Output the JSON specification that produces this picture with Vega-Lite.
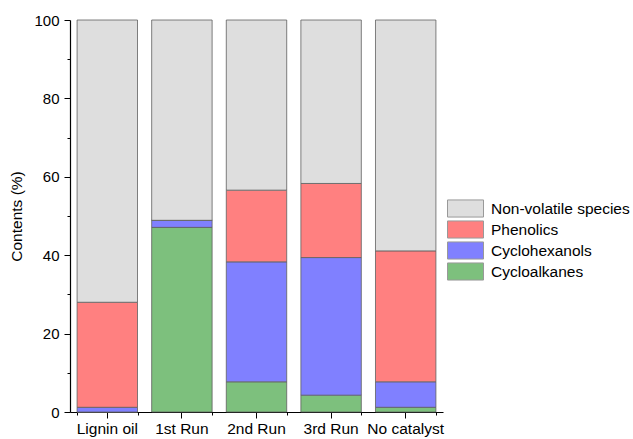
{
  "$schema": "https://vega.github.io/schema/vega-lite/v6.json",
  "width": 373,
  "height": 392,
  "autosize": {"type": "none"},
  "padding": {"left": 70, "top": 20, "right": 190, "bottom": 27},
  "config": {
    "font": "Liberation Sans",
    "view": {"stroke": null},
    "axis": {"domainColor": "#000", "tickColor": "#000", "labelColor": "#000", "titleColor": "#000", "grid": false}
  },
  "data": {
    "values": [
      {"sample": "Lignin oil", "species": "Cycloalkanes", "value": 0, "ord": 1},
      {"sample": "Lignin oil", "species": "Cyclohexanols", "value": 1.2, "ord": 2},
      {"sample": "Lignin oil", "species": "Phenolics", "value": 26.8, "ord": 3},
      {"sample": "Lignin oil", "species": "Non-volatile species", "value": 72.0, "ord": 4},
      {"sample": "1st Run", "species": "Cycloalkanes", "value": 47.1, "ord": 1},
      {"sample": "1st Run", "species": "Cyclohexanols", "value": 1.8, "ord": 2},
      {"sample": "1st Run", "species": "Phenolics", "value": 0, "ord": 3},
      {"sample": "1st Run", "species": "Non-volatile species", "value": 51.1, "ord": 4},
      {"sample": "2nd Run", "species": "Cycloalkanes", "value": 7.7, "ord": 1},
      {"sample": "2nd Run", "species": "Cyclohexanols", "value": 30.6, "ord": 2},
      {"sample": "2nd Run", "species": "Phenolics", "value": 18.3, "ord": 3},
      {"sample": "2nd Run", "species": "Non-volatile species", "value": 43.4, "ord": 4},
      {"sample": "3rd Run", "species": "Cycloalkanes", "value": 4.3, "ord": 1},
      {"sample": "3rd Run", "species": "Cyclohexanols", "value": 35.1, "ord": 2},
      {"sample": "3rd Run", "species": "Phenolics", "value": 18.9, "ord": 3},
      {"sample": "3rd Run", "species": "Non-volatile species", "value": 41.7, "ord": 4},
      {"sample": "No catalyst", "species": "Cycloalkanes", "value": 1.2, "ord": 1},
      {"sample": "No catalyst", "species": "Cyclohexanols", "value": 6.5, "ord": 2},
      {"sample": "No catalyst", "species": "Phenolics", "value": 33.4, "ord": 3},
      {"sample": "No catalyst", "species": "Non-volatile species", "value": 58.9, "ord": 4}
    ]
  },
  "resolve": {"axis": {"x": "independent"}},
  "layer": [
    {
      "mark": {"type": "bar", "opacity": 0},
      "encoding": {
        "x": {
          "field": "sample", "type": "nominal",
          "sort": ["Lignin oil", "1st Run", "2nd Run", "3rd Run", "No catalyst"],
          "scale": {"paddingInner": 0.19, "paddingOuter": 0.095},
          "axis": {"title": null, "orient": "bottom", "labels": false, "domain": false, "tickBand": "extent", "tickSize": 3, "tickWidth": 1}
        }
      }
    },
    {
      "mark": {"type": "bar", "stroke": "#606060", "strokeWidth": 0.8},
      "encoding": {
        "x": {
          "field": "sample", "type": "nominal",
          "sort": ["Lignin oil", "1st Run", "2nd Run", "3rd Run", "No catalyst"],
          "axis": {"title": null, "orient": "bottom", "labelAngle": 0, "labelFontSize": 15.5, "labelPadding": 3, "tickSize": 6, "tickWidth": 1, "domainWidth": 1.2}
        },
        "y": {
          "field": "value", "type": "quantitative", "stack": "zero",
          "scale": {"domain": [0, 100], "nice": false},
          "axis": {
            "title": "Contents (%)", "titleFontSize": 15.5, "titleFontWeight": "normal", "titlePadding": 9,
            "values": [0, 10, 20, 30, 40, 50, 60, 70, 80, 90, 100],
            "labelExpr": "datum.value % 20 === 0 ? datum.label : ''",
            "labelFontSize": 15, "labelPadding": 5,
            "tickSize": {"condition": {"test": "datum.value % 20 === 0", "value": 6}, "value": 3},
            "domainWidth": 1.2
          }
        },
        "color": {
          "field": "species", "type": "nominal",
          "scale": {
            "domain": ["Non-volatile species", "Phenolics", "Cyclohexanols", "Cycloalkanes"],
            "range": ["#DEDEDE", "#FF8080", "#8080FF", "#7DC07D"]
          },
          "legend": {
            "title": null, "orient": "none", "legendX": 377, "legendY": 179, "padding": 0,
            "symbolType": "M-1,-0.95L3,-0.95L3,0.95L-1,0.95Z", "symbolSize": 324,
            "symbolStrokeColor": "#999999", "symbolStrokeWidth": 1, "symbolOpacity": 1,
            "labelFontSize": 15.5, "labelColor": "#000", "labelOffset": 25, "rowPadding": -3
          }
        },
        "order": {"field": "ord", "type": "quantitative"}
      }
    }
  ]
}
